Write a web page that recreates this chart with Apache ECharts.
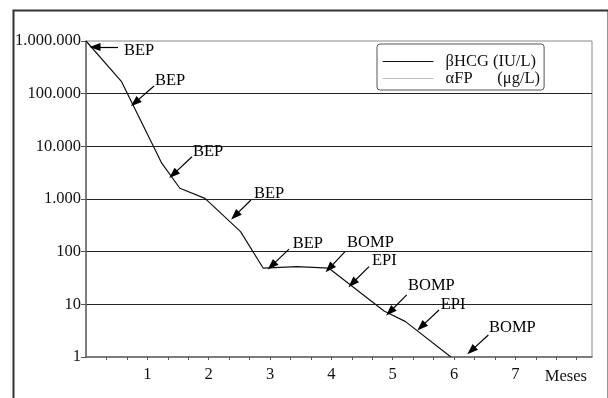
<!DOCTYPE html>
<html>
<head>
<meta charset="utf-8">
<script src="https://cdn.jsdelivr.net/npm/echarts@6/dist/echarts.min.js"></script>
<style>
html,body{margin:0;padding:0;background:#fff;}
#chart{width:608px;height:398px;}
</style>
</head>
<body>
<div id="chart"></div>
<script>
// ---- data ----
const seriesNames = ['βHCG (IU/L)', 'αFP      (μg/L)'];
const hcgMonth = [0, 0.58, 1.235, 1.53, 1.94, 2.52, 2.89, 3.44, 3.96, 4.86, 5.21, 5.95];
const hcgValue = [1000000, 169000, 4780, 1600, 1030, 240, 48.5, 52, 48.5, 7.5, 4.7, 1];
const afpMonth = [];
const afpValue = [];
const yTickLabels = ['1', '10', '100', '1.000', '10.000', '100.000', '1.000.000'];
const xTickLabels = ['1', '2', '3', '4', '5', '6', '7'];
const xAxisName = 'Meses';

// annotations (data units): text anchor, arrow tail, arrow head
const noteText = ['BEP', 'BEP', 'BEP', 'BEP', 'BEP', 'BOMP', 'EPI', 'BOMP', 'EPI', 'BOMP'];
const noteMonth = [0.62, 1.125, 1.745, 2.739, 3.37, 4.256, 4.663, 5.25, 5.783, 6.571];
const noteValue = [655000, 174000, 7820, 1245, 144, 148, 66.5, 22.3, 9.73, 3.61];
const tailMonth = [0.522, 1.109, 1.728, 2.69, 3.31, 4.223, 4.614, 5.229, 5.756, 6.56];
const tailValue = [769000, 140000, 6350, 957, 112, 100, 51.9, 15.1, 7.82, 2.62];
const headMonth = [0.147, 0.799, 1.423, 2.43, 3.028, 3.967, 4.342, 4.957, 5.467, 6.282];
const headValue = [769000, 67500, 2940, 482, 54.2, 48.3, 25.1, 7.24, 3.77, 1.32];

// ---- chart ----
const FONT = "'Liberation Serif', 'DejaVu Serif', serif";
const FS = 16.5;
const chart = echarts.init(document.getElementById('chart'), null, {renderer: 'canvas'});

const hcgData = hcgMonth.map((m, i) => [m, hcgValue[i]]);
const afpData = afpMonth.map((m, i) => [m, afpValue[i]]);
const notePoints = noteText.map((t, i) => ({name: t, coord: [noteMonth[i], noteValue[i]]}));
const arrowData = noteText.map((t, i) => [
  {coord: [tailMonth[i], tailValue[i]], symbol: 'none'},
  {coord: [headMonth[i], headValue[i]], symbol: 'triangle', symbolSize: [8, 11]}
]);

chart.setOption({
  animation: false,
  backgroundColor: '#fff',
  textStyle: {fontFamily: FONT},
  graphic: [{
    type: 'rect',
    left: 11, top: 8,
    shape: {width: 595, height: 420},
    style: {fill: 'none', stroke: '#333', lineWidth: 2},
    silent: true, z: -1
  }],
  grid: {
    left: 86, top: 41, right: 16, bottom: 41,
    show: true, borderColor: '#888', borderWidth: 1, backgroundColor: 'transparent'
  },
  legend: {
    data: seriesNames,
    orient: 'vertical',
    left: 377, top: 44,
    itemWidth: 51, itemHeight: 10,
    itemGap: 0,
    padding: [9, 4, 3, 5],
    borderColor: '#555', borderWidth: 1, borderRadius: 3,
    backgroundColor: '#fff',
    selectedMode: false,
    itemStyle: {opacity: 0},
    lineStyle: {width: 1.2},
    textStyle: {fontFamily: FONT, fontSize: FS, color: '#111', lineHeight: 15.7, padding: [0, 0, 0, 7]}
  },
  xAxis: {
    type: 'value',
    min: 0, max: 8.25, interval: 1 / 3,
    name: xAxisName,
    nameLocation: 'end',
    nameGap: -5,
    nameMoveOverlap: false,
    nameTextStyle: {fontFamily: FONT, fontSize: FS, color: '#111', align: 'right', verticalAlign: 'top', lineHeight: 18, padding: [11, 0, 0, 0]},
    axisLine: {show: true, lineStyle: {color: '#666', width: 1.5}},
    axisTick: {show: true, inside: false, length: 3, lineStyle: {color: '#555', width: 1}},
    splitLine: {show: false},
    axisLabel: {
      show: true, margin: 9,
      fontFamily: FONT, fontSize: FS, color: '#111',
      showMinLabel: false, showMaxLabel: false,
      formatter: function (v) {
        const r = Math.round(v);
        if (Math.abs(v - r) < 1e-6 && r >= 1 && r <= xTickLabels.length) return xTickLabels[r - 1];
        return '';
      }
    }
  },
  yAxis: {
    type: 'log', logBase: 10,
    min: 1, max: 1000000,
    axisLine: {show: true, lineStyle: {color: '#666', width: 1.5}},
    axisTick: {show: true, inside: false, length: 5, lineStyle: {color: '#555', width: 1}},
    splitLine: {show: true, showMinLine: false, showMaxLine: false, lineStyle: {color: '#222', width: 1}},
    minorTick: {show: false},
    axisLabel: {
      margin: 5,
      fontFamily: FONT, fontSize: FS, color: '#111',
      formatter: function (v) {
        const k = Math.round(Math.log10(v));
        return yTickLabels[k] !== undefined ? yTickLabels[k] : '';
      }
    }
  },
  series: [
    {
      name: seriesNames[0],
      type: 'line',
      data: hcgData,
      symbol: 'none',
      lineStyle: {color: '#111', width: 1.2},
      itemStyle: {color: '#111'},
      z: 3,
      markLine: {
        silent: true,
        symbol: ['none', 'triangle'],
        symbolSize: [0, 11],
        label: {show: false},
        lineStyle: {color: '#000', width: 1.2, type: 'solid'},
        data: arrowData
      },
      markPoint: {
        silent: true,
        symbol: 'rect',
        symbolSize: 0.01,
        itemStyle: {color: '#fff', opacity: 1},
        label: {
          show: true, position: 'right', distance: 0,
          fontFamily: FONT, fontSize: FS, color: '#000', opacity: 1,
          formatter: '{b}'
        },
        data: notePoints
      }
    },
    {
      name: seriesNames[1],
      type: 'line',
      data: afpData,
      symbol: 'none',
      lineStyle: {color: '#bbb', width: 1.2},
      itemStyle: {color: '#bbb'}
    }
  ]
});
</script>
</body>
</html>
